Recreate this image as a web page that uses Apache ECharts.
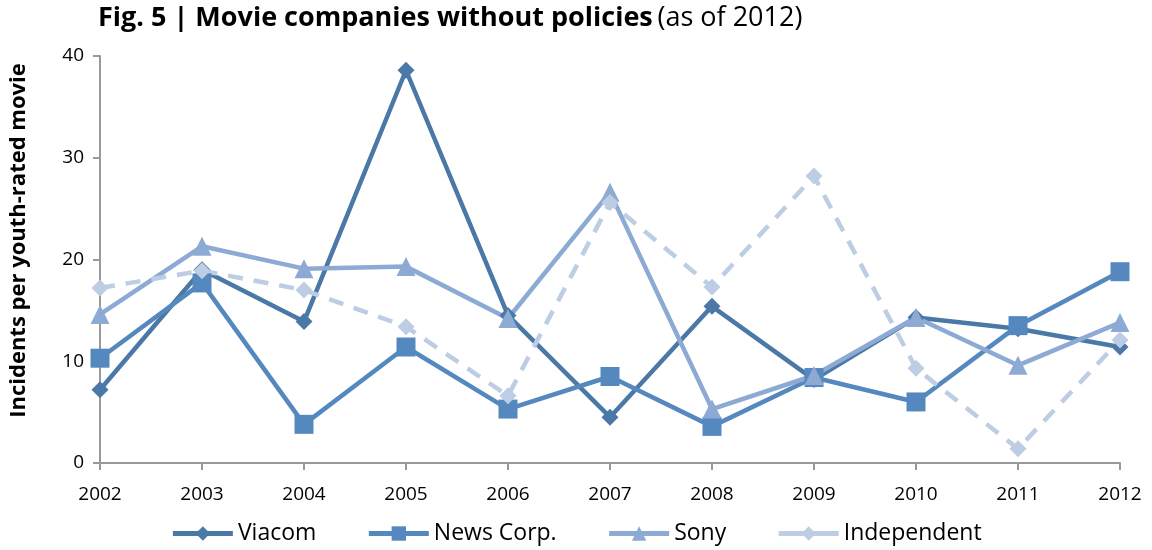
<!DOCTYPE html>
<html><head><meta charset="utf-8">
<script src="https://cdn.jsdelivr.net/npm/echarts@6/dist/echarts.min.js"></script>
<style>html,body{margin:0;padding:0;background:#fff}#c{width:1152px;height:550px}</style>
</head><body><div id="c"></div>
<script>
const years = ['2002','2003','2004','2005','2006','2007','2008','2009','2010','2011','2012'];
const viacom = [7.2, 19.0, 13.9, 38.6, 14.5, 4.5, 15.4, 8.2, 14.3, 13.2, 11.4];
const newsCorp = [10.3, 17.7, 3.8, 11.4, 5.3, 8.5, 3.6, 8.4, 6.0, 13.5, 18.8];
const sony = [14.6, 21.3, 19.1, 19.3, 14.2, 26.6, 5.3, 8.6, 14.3, 9.6, 13.8];
const independent = [17.2, 18.9, 17.0, 13.4, 6.6, 25.6, 17.3, 28.2, 9.3, 1.4, 12.1];
const yTicks = [0, 10, 20, 30, 40];

const FONT = 'Open Sans';
function mk(name, data, color, symbol, size, dashed) {
  return {
    name, type: 'line', data, symbol, symbolSize: size,
    lineStyle: { color, width: 4.5, type: dashed ? [15, 11] : 'solid' },
    itemStyle: { color },
    z: 2
  };
}
const chart = echarts.init(document.getElementById('c'));
chart.setOption({
  animation: false,
  textStyle: { fontFamily: FONT },
  title: {
    left: 93, top: 0,
    text: '{b|Fig. 5 | Movie companies without policies} {n|(as of 2012)}',
    textStyle: { rich: {
      b: { fontFamily: FONT, fontWeight: 'bold', fontSize: 27, color: '#000' },
      n: { fontFamily: FONT, fontWeight: 'normal', fontSize: 27, color: '#000' }
    } }
  },
  grid: { left: 97, right: 32, top: 56, bottom: 87 },
  legend: {
    bottom: 0, left: 'center', itemWidth: 60, itemHeight: 18, itemGap: 50,
    lineStyle: { width: 5 },
    textStyle: { fontFamily: FONT, fontSize: 23, color: '#000' },
    data: ['Viacom', 'News Corp.', 'Sony', { name: 'Independent', lineStyle: { type: 'solid', width: 5 } }]
  },
  xAxis: {
    type: 'category', data: years, boundaryGap: false,
    axisLine: { lineStyle: { color: '#999', width: 2 } },
    axisTick: { length: 7, lineStyle: { color: '#999', width: 2 } },
    axisLabel: { fontFamily: FONT, fontSize: 19, color: '#000', margin: 22 }
  },
  yAxis: {
    type: 'value', min: 0, max: 40, interval: 10,
    name: 'Incidents per youth-rated movie', nameLocation: 'middle', nameGap: 70,
    nameTextStyle: { fontFamily: FONT, fontWeight: 'bold', fontSize: 22, color: '#000', padding: [0, 0, 0, 38] },
    axisLine: { show: true, lineStyle: { color: '#999', width: 2 } },
    axisTick: { show: true, length: 7, lineStyle: { color: '#999', width: 2 } },
    splitLine: { show: false },
    axisLabel: { fontFamily: FONT, fontSize: 19, color: '#000', margin: 16,
      formatter: v => yTicks.includes(v) ? String(v) : '' }
  },
  series: [
    mk('Viacom', viacom, '#4A79A7', 'diamond', 17, false),
    mk('News Corp.', newsCorp, '#5588BF', 'rect', 19, false),
    mk('Sony', sony, '#8CAAD3', 'triangle', 19, false),
    mk('Independent', independent, '#BCCDE4', 'diamond', 17, true)
  ]
});
</script></body></html>
